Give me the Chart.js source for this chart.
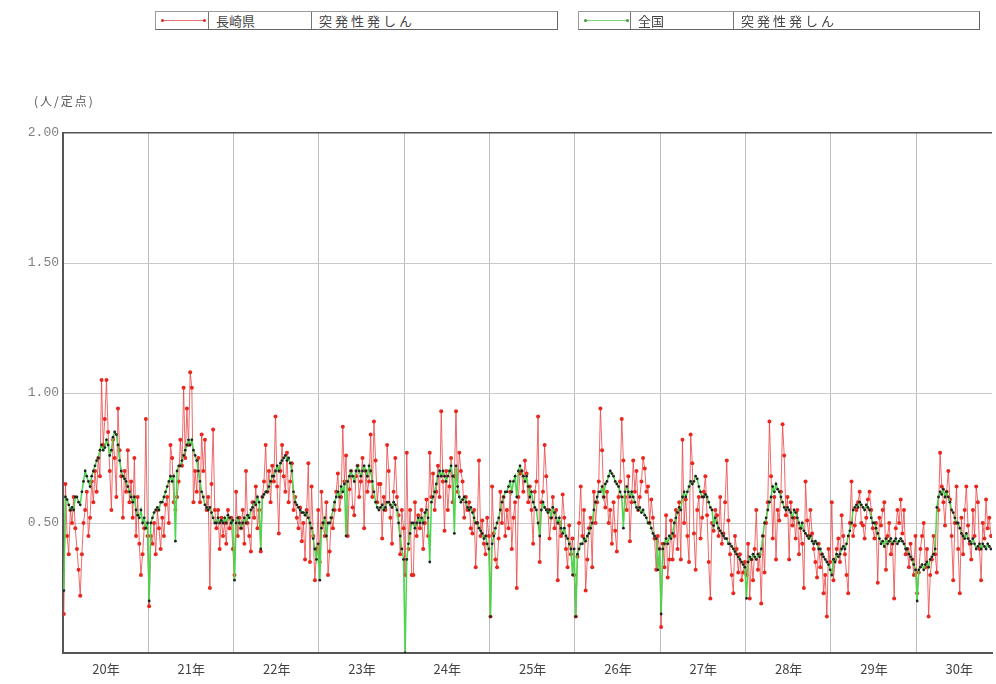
<!DOCTYPE html>
<html>
<head>
<meta charset="utf-8">
<script src="https://cdn.jsdelivr.net/npm/chart.js@4.4.1/dist/chart.umd.min.js"></script>
<style>
  html, body { margin: 0; padding: 0; background: #fff; }
  #wrap { position: relative; width: 996px; height: 684px; overflow: hidden; }
  canvas { position: absolute; left: 0; top: 0; }
  .lg { position: absolute; height: 17px; border: 1px solid #9a9a9a; border-right-color: #666; border-bottom-color: #666; background: #fff; }
  .lg span { position: absolute; top: 0; font: 13px "Noto Sans CJK JP", sans-serif; line-height: 17px; color: #444; }
  .lg span.wide { letter-spacing: 3px; }
  .lg .sep { position: absolute; top: 0; width: 1px; height: 17px; background: #777; }
  .lg .line { position: absolute; left: 6px; top: 8px; width: 43px; height: 1px; }
  .lg .dot { position: absolute; top: 7px; width: 3px; height: 3px; border-radius: 2px; }
  #unit { position: absolute; left: 34px; top: 92px; font: 12px "Noto Sans CJK JP", sans-serif; letter-spacing: 2px; color: #555; }
</style>
</head>
<body>
<div id="wrap">
  <canvas id="chart" width="996" height="684"></canvas>

  <!-- legend boxes -->
  <div class="lg" style="left:155px;top:11px;width:401px">
    <div class="line" style="background:#e87070"></div>
    <div class="dot" style="left:5px;background:#e02a20"></div>
    <div class="dot" style="left:47px;background:#e02a20"></div>
    <div class="sep" style="left:52px"></div>
    <span style="left:60px">長崎県</span>
    <div class="sep" style="left:155px"></div>
    <span class="wide" style="left:163px">突発性発しん</span>
  </div>
  <div class="lg" style="left:578px;top:11px;width:400px">
    <div class="line" style="background:#7ad87a"></div>
    <div class="dot" style="left:5px;background:#3a9a3a"></div>
    <div class="dot" style="left:47px;background:#3a9a3a"></div>
    <div class="sep" style="left:51px"></div>
    <span style="left:59px">全国</span>
    <div class="sep" style="left:154px"></div>
    <span class="wide" style="left:162px">突発性発しん</span>
  </div>

  <div id="unit">(人/定点)</div>
</div>

<script>
// year labels (Heisei)
const yearLabels = ['20年', '21年', '22年', '23年', '24年', '25年', '26年', '27年', '28年', '29年', '30年'];

// 長崎県 — weekly per-sentinel counts, one array per year
const nagasaki20 = [.15,.65,.45,.38,.55,.50,.60,.48,.40,.32, .22,.38,.50,.55,.62,.45,.52,.66,.58,.70, .62,.75,.68,1.05,.80,.90,1.05,.85,.70,.55, .82,.75,.60,.94,.78,.68,.52,.70,.62,.78, .58,.66,.52,.75,.45,.60,.42,.30,.38,.48,.90,.45];
const nagasaki21 = [.18,.45,.42,.50,.38,.55,.48,.40,.52,.45, .57,.60,.50,.80,.75,.58,.55,.60,.66,.82, .72,1.02,.75,.94,.80,1.08,1.02,.58,.70,.62, .75,.58,.84,.70,.82,.55,.60,.25,.65,.86, .55,.48,.55,.40,.52,.45,.50,.42,.55,.48,.52,.40];
const nagasaki22 = [.30,.62,.45,.52,.48,.55,.42,.70,.50,.45, .39,.58,.52,.64,.48,.55,.39,.60,.66,.80, .62,.70,.58,.72,.66,.91,.64,.46,.70,.80, .68,.62,.77,.58,.66,.73,.55,.60,.52,.48, .56,.43,.50,.36,.55,.73,.35,.64,.45,.28,.40,.55];
const nagasaki23 = [.35,.62,.50,.45,.58,.30,.39,.52,.48,.55, .62,.69,.55,.60,.87,.66,.76,.45,.63,.70, .56,.53,.68,.72,.60,.66,.75,.48,.70,.62, .66,.84,.60,.89,.74,.58,.65,.65,.44,.60, .55,.80,.70,.52,.42,.62,.75,.60,.53,.38,.55,.48];
const nagasaki24 = [.30,.77,.40,.55,.30,.30,.58,.45,.53,.48, .55,.40,.50,.59,.45,.77,.60,.69,.55,.62, .72,.60,.93,.66,.47,.70,.55,.64,.75,.58, .68,.93,.62,.77,.70,.66,.52,.60,.55,.58, .48,.46,.55,.33,.50,.74,.45,.51,.42,.38,.52,.45];
const nagasaki25 = [.14,.64,.46,.36,.33,.44,.62,.50,.60,.45, .55,.48,.62,.40,.52,.58,.25,.60,.69,.70, .62,.74,.69,.58,.64,.55,.42,.62,.66,.91, .35,.58,.62,.80,.68,.55,.44,.52,.60,.48, .55,.28,.50,.45,.61,.52,.40,.33,.49,.38,.44,.30];
const nagasaki26 = [.14,.37,.50,.64,.45,.55,.24,.36,.48,.52, .33,.62,.50,.58,.66,.94,.78,.60,.56,.62, .50,.55,.42,.58,.47,.39,.60,.66,.90,.74, .60,.55,.68,.43,.58,.74,.62,.70,.55,.60, .66,.75,.71,.62,.64,.50,.59,.52,.44,.32,.45,.40];
const nagasaki27 = [.10,.42,.33,.53,.29,.36,.51,.36,.45,.55, .40,.58,.36,.82,.50,.59,.45,.35,.84,.73, .46,.32,.55,.60,.44,.52,.62,.68,.53,.35, .21,.50,.47,.55,.53,.45,.60,.42,.46,.58, .74,.51,.38,.30,.23,.45,.40,.31,.38,.28,.31,.35];
const nagasaki28 = [.30,.42,.21,.36,.28,.40,.55,.32,.38,.19, .45,.31,.50,.58,.89,.68,.44,.60,.36,.55, .51,.62,.88,.76,.53,.60,.36,.58,.49,.52, .44,.55,.38,.48,.42,.25,.66,.51,.45,.55, .46,.40,.35,.29,.42,.33,.38,.23,.30,.14,.40,.35];
const nagasaki29 = [.58,.28,.36,.40,.44,.35,.53,.45,.38,.30, .23,.50,.66,.45,.49,.55,.58,.62,.50,.49, .44,.52,.59,.62,.55,.48,.44,.50,.27,.52, .49,.55,.58,.32,.45,.50,.38,.42,.21,.48, .55,.50,.59,.46,.55,.38,.40,.33,.42,.36,.30,.45];
const nagasaki30 = [.23,.31,.40,.45,.50,.33,.40,.14,.30,.36, .45,.38,.31,.55,.77,.64,.58,.49,.62,.70, .59,.45,.28,.50,.64,.40,.23,.52,.38,.55, .64,.49,.42,.36,.55,.45,.64,.58,.40,.28, .50,.44,.59,.48,.52,.45];

// 全国 — weekly per-sentinel counts
const national20 = [.24,.60,.59,.57,.55,.56,.55,.60,.60,.58, .57,.62,.66,.70,.68,.66,.64,.68,.70,.72, .74,.75,.78,.80,.78,.79,.82,.80,.76,.78, .83,.85,.84,.80,.74,.70,.68,.67,.66,.64, .62,.60,.58,.60,.55,.53,.52,.55,.50,.52,.48,.50];
const national21 = [.20,.50,.52,.54,.55,.56,.55,.58,.58,.60, .62,.64,.66,.68,.66,.68,.43,.70,.72,.72, .74,.76,.78,.80,.82,.80,.82,.78,.76,.74, .70,.66,.62,.60,.57,.56,.55,.56,.54,.52, .50,.50,.52,.50,.51,.50,.52,.50,.53,.52,.50,.51];
const national22 = [.28,.50,.52,.50,.48,.50,.52,.50,.53,.52, .55,.56,.58,.57,.60,.58,.40,.60,.61,.62, .62,.64,.66,.68,.68,.70,.72,.70,.73,.74, .75,.76,.74,.75,.73,.70,.62,.58,.57,.56, .55,.54,.54,.53,.54,.52,.50,.48,.44,.40,.36,.42];
const national23 = [.28,.48,.50,.52,.45,.50,.50,.52,.55,.58, .60,.62,.60,.64,.62,.65,.45,.66,.68,.70, .68,.66,.70,.72,.70,.68,.70,.72,.70,.68, .72,.70,.66,.62,.58,.56,.55,.56,.57,.55, .56,.58,.58,.57,.56,.58,.57,.55,.50,.45,.40,.36];
const national24 = [0,.36,.42,.46,.50,.50,.48,.50,.52,.50, .52,.50,.54,.55,.52,.35,.58,.60,.62,.65, .68,.70,.68,.70,.68,.66,.68,.70,.72,.68, .46,.72,.64,.60,.58,.59,.60,.58,.56,.55, .56,.54,.52,.50,.50,.48,.47,.46,.44,.45,.42,.40];
const national25 = [.14,.42,.45,.48,.50,.52,.55,.58,.60,.62, .62,.64,.66,.62,.66,.68,.60,.70,.72,.70, .68,.66,.68,.64,.60,.62,.58,.56,.55,.50, .45,.55,.58,.56,.55,.54,.55,.52,.56,.54, .52,.50,.52,.48,.46,.48,.45,.44,.42,.40,.30,.40];
const national26 = [.14,.38,.40,.42,.42,.44,.43,.45,.46,.48, .50,.55,.58,.60,.62,.62,.64,.60,.65,.66, .68,.70,.69,.68,.66,.65,.64,.62,.60,.48, .62,.64,.62,.60,.62,.60,.58,.56,.55,.56, .54,.55,.53,.52,.50,.50,.48,.46,.45,.44,.32,.40];
const national27 = [.15,.40,.42,.44,.42,.45,.44,.46,.50,.52, .54,.56,.55,.60,.62,.60,.62,.64,.66,.65, .66,.68,.67,.64,.62,.60,.60,.61,.60,.58, .56,.55,.49,.52,.50,.48,.47,.46,.45,.44, .44,.42,.42,.41,.40,.39,.38,.37,.36,.35,.34,.33];
const national28 = [.21,.35,.37,.36,.38,.37,.36,.38,.37,.40, .45,.50,.52,.55,.58,.60,.64,.62,.65,.63, .62,.60,.58,.56,.55,.56,.55,.54,.52,.55, .54,.52,.50,.48,.50,.47,.46,.45,.44,.45, .43,.42,.43,.42,.40,.40,.38,.37,.36,.35,.34,.32];
const national29 = [.30,.36,.35,.38,.37,.38,.40,.41,.40,.42, .45,.47,.50,.55,.56,.57,.56,.58,.57,.56, .55,.57,.56,.55,.52,.50,.50,.48,.46,.44, .42,.43,.41,.44,.42,.43,.44,.42,.43,.44, .42,.43,.44,.43,.42,.40,.40,.38,.37,.36,.34,.32];
const national30 = [.20,.32,.33,.34,.32,.34,.35,.33,.36,.37, .38,.40,.56,.60,.62,.61,.63,.60,.62,.60, .58,.55,.54,.52,.50,.50,.48,.46,.45,.44, .46,.44,.43,.42,.44,.42,.40,.41,.42,.40, .42,.41,.40,.42,.41,.40];

const nagasakiYears = [nagasaki20, nagasaki21, nagasaki22, nagasaki23, nagasaki24, nagasaki25, nagasaki26, nagasaki27, nagasaki28, nagasaki29, nagasaki30];
const nationalYears = [national20, national21, national22, national23, national24, national25, national26, national27, national28, national29, national30];

const WEEKS_PER_YEAR = 52;
const X_MAX = 10.887;   // the chart is cut at the right edge, partway into 30年

// year index + week position -> linear x value
function toPoints(byYear) {
  const pts = [];
  byYear.forEach(function(arr, yi) {
    arr.forEach(function(v, wi) {
      pts.push({ x: yi + (wi + 0.5) / WEEKS_PER_YEAR, y: v });
    });
  });
  return pts;
}

const AXIS_DARK = '#555';
const GRID = '#c9c9c9';

new Chart(document.getElementById('chart').getContext('2d'), {
  type: 'line',
  data: {
    datasets: [
      {
        label: '全国',
        data: toPoints(nationalYears),
        borderColor: '#4cd64c',
        borderWidth: 1.5,
        pointRadius: 1.4,
        pointBackgroundColor: '#222',
        pointBorderWidth: 0,
        tension: 0,
        order: 1
      },
      {
        label: '長崎県',
        data: toPoints(nagasakiYears),
        borderColor: 'rgba(232,70,70,0.8)',
        borderWidth: 1,
        pointRadius: 2,
        pointBackgroundColor: '#e8281e',
        pointBorderWidth: 0,
        tension: 0,
        order: 2
      }
    ]
  },
  options: {
    responsive: false,
    animation: false,
    layout: { padding: { top: 133, right: 0, bottom: 0, left: 0 } },
    plugins: {
      legend: { display: false },
      tooltip: { enabled: false }
    },
    scales: {
      x: {
        type: 'linear',
        min: 0,
        max: X_MAX,
        afterBuildTicks: function(axis) {
          axis.ticks = yearLabels.map(function(_, i) { return { value: i }; });
        },
        afterFit: function(axis) { axis.height = 31; },
        border: { color: AXIS_DARK, width: 2 },
        grid: {
          color: function(ctx) { return ctx.tick && ctx.tick.value === 0 ? AXIS_DARK : '#bdbdbd'; },
          drawTicks: false
        },
        ticks: {
          autoSkip: false,
          maxRotation: 0,
          padding: 8,
          labelOffset: 43,
          color: '#444',
          font: { family: "'Noto Sans CJK JP', sans-serif", size: 13 },
          callback: function(v) { return yearLabels[v]; }
        }
      },
      y: {
        min: 0,
        max: 2,
        afterFit: function(axis) { axis.width = 63; },
        border: { color: AXIS_DARK, width: 2 },
        grid: {
          color: function(ctx) { return ctx.tick && ctx.tick.value === 2 ? AXIS_DARK : GRID; },
          lineWidth: function(ctx) { return ctx.tick && ctx.tick.value === 2 ? 1.5 : 1; },
          drawTicks: false
        },
        ticks: {
          stepSize: 0.5,
          padding: 4,
          color: '#808080',
          font: { family: "'Liberation Mono', monospace", size: 13 },
          callback: function(v) { return v === 0 ? '' : v.toFixed(2); }
        }
      }
    }
  }
});
</script>
</body>
</html>
